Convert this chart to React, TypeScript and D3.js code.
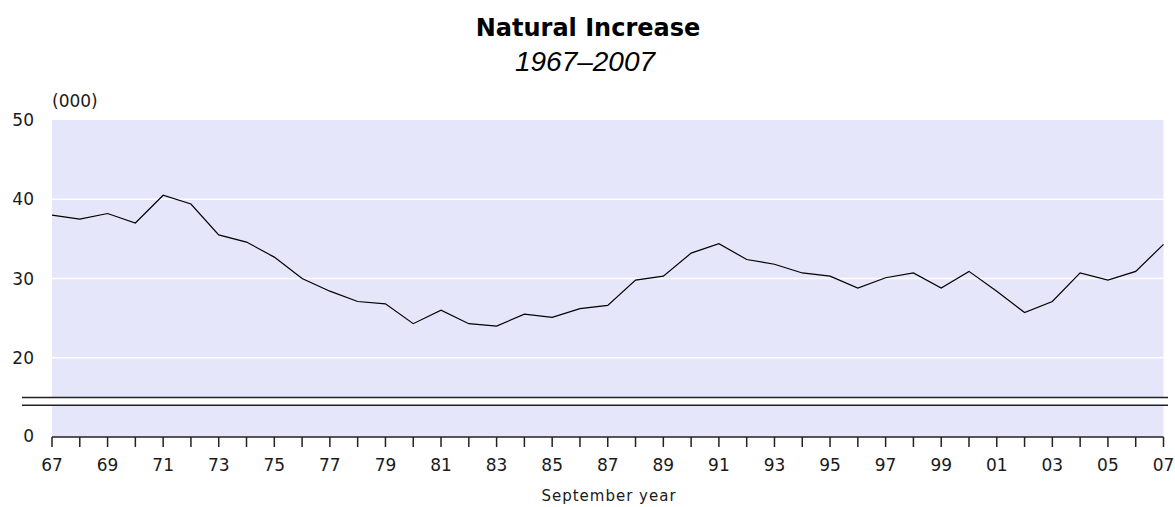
import React from "react";
import * as d3 from "d3";

const years: number[] = [
  1967, 1968, 1969, 1970, 1971, 1972, 1973, 1974, 1975, 1976, 1977, 1978, 1979, 1980,
  1981, 1982, 1983, 1984, 1985, 1986, 1987, 1988, 1989, 1990, 1991, 1992, 1993, 1994,
  1995, 1996, 1997, 1998, 1999, 2000, 2001, 2002, 2003, 2004, 2005, 2006, 2007,
];

const naturalIncrease: number[] = [
  38.0, 37.5, 38.2, 37.0, 40.5, 39.4, 35.5, 34.6, 32.7, 30.0, 28.4, 27.1, 26.8, 24.3,
  26.0, 24.3, 24.0, 25.5, 25.1, 26.2, 26.6, 29.8, 30.3, 33.2, 34.4, 32.4, 31.8, 30.7,
  30.3, 28.8, 30.1, 30.7, 28.8, 30.9, 28.4, 25.7, 27.1, 30.7, 29.8, 30.9, 34.3,
];

const yTickValues: number[] = [20, 30, 40, 50];
const yBottomLabel = "0";
const yBreakValues: number[] = [15, 14];
const xLabelYears: number[] = years.filter((y) => (y - 1967) % 2 === 0);

const title = "Natural Increase";
const subtitle = "1967\u20132007";
const unitLabel = "(000)";
const xAxisTitle = "September year";

const W = 1175;
const H = 507;
const left = 52;
const right = 1163.5;
const top = 120;
const bottom = 437;

export default function App() {
  const x = d3.scaleLinear().domain([1967, 2007]).range([left, right]);
  const y = d3.scaleLinear().domain([10, 50]).range([bottom, top]);

  const line = d3
    .line<number>()
    .x((_, i) => x(years[i]))
    .y((d) => y(d));

  const font = "'DejaVu Sans', Verdana, sans-serif";
  const textColor = "#1a1a1a";

  return (
    <svg
      width={W}
      height={H}
      style={{ position: "absolute", left: 0, top: 0, display: "block", background: "#fff" }}
    >
      {/* Title */}
      <text
        x={588}
        y={35.5}
        textAnchor="middle"
        fontFamily={font}
        fontWeight="bold"
        fontSize={24}
        fill="#000"
      >
        {title}
      </text>
      <text
        x={585}
        y={71}
        textAnchor="middle"
        fontFamily="'Liberation Sans', Arial, sans-serif"
        fontStyle="italic"
        fontSize={28}
        fill="#000"
      >
        {subtitle}
      </text>

      {/* Plot background */}
      <rect x={left} y={top} width={right - left} height={bottom - top} fill="#e6e6fa" />

      {/* Gridlines */}
      {yTickValues
        .filter((v) => v < 50)
        .map((v) => (
          <line
            key={"g" + v}
            x1={left}
            x2={right}
            y1={y(v)}
            y2={y(v)}
            stroke="#ffffff"
            strokeWidth={1.5}
          />
        ))}

      {/* Axis break */}
      <rect
        x={22}
        y={y(yBreakValues[0])}
        width={1168 - 22}
        height={y(yBreakValues[1]) - y(yBreakValues[0])}
        fill="#ffffff"
      />
      {yBreakValues.map((v) => (
        <line
          key={"b" + v}
          x1={22}
          x2={1168}
          y1={y(v)}
          y2={y(v)}
          stroke="#222"
          strokeWidth={1.5}
        />
      ))}

      {/* Data line */}
      <path d={line(naturalIncrease) ?? ""} fill="none" stroke="#000" strokeWidth={1.2} />

      {/* Y labels */}
      <text x={52} y={107} fontFamily={font} fontSize={17} fill={textColor}>
        {unitLabel}
      </text>
      {yTickValues.map((v) => (
        <text
          key={"yl" + v}
          x={34}
          y={y(v) + 6}
          textAnchor="end"
          fontFamily={font}
          fontSize={17}
          fill={textColor}
        >
          {v}
        </text>
      ))}
      <text x={34} y={bottom + 5} textAnchor="end" fontFamily={font} fontSize={17} fill={textColor}>
        {yBottomLabel}
      </text>

      {/* X axis */}
      <line x1={left} x2={right} y1={bottom} y2={bottom} stroke="#222" strokeWidth={1.5} />
      {years.map((yr) => (
        <line
          key={"t" + yr}
          x1={x(yr)}
          x2={x(yr)}
          y1={bottom}
          y2={bottom + 10}
          stroke="#222"
          strokeWidth={1.5}
        />
      ))}
      {xLabelYears.map((yr) => (
        <text
          key={"xl" + yr}
          x={x(yr)}
          y={471}
          textAnchor="middle"
          fontFamily={font}
          fontSize={17}
          fill={textColor}
        >
          {String(yr % 100).padStart(2, "0")}
        </text>
      ))}
      <text
        x={609}
        y={501}
        textAnchor="middle"
        fontFamily={font}
        fontSize={15}
        letterSpacing={1}
        fill={textColor}
      >
        {xAxisTitle}
      </text>
    </svg>
  );
}
